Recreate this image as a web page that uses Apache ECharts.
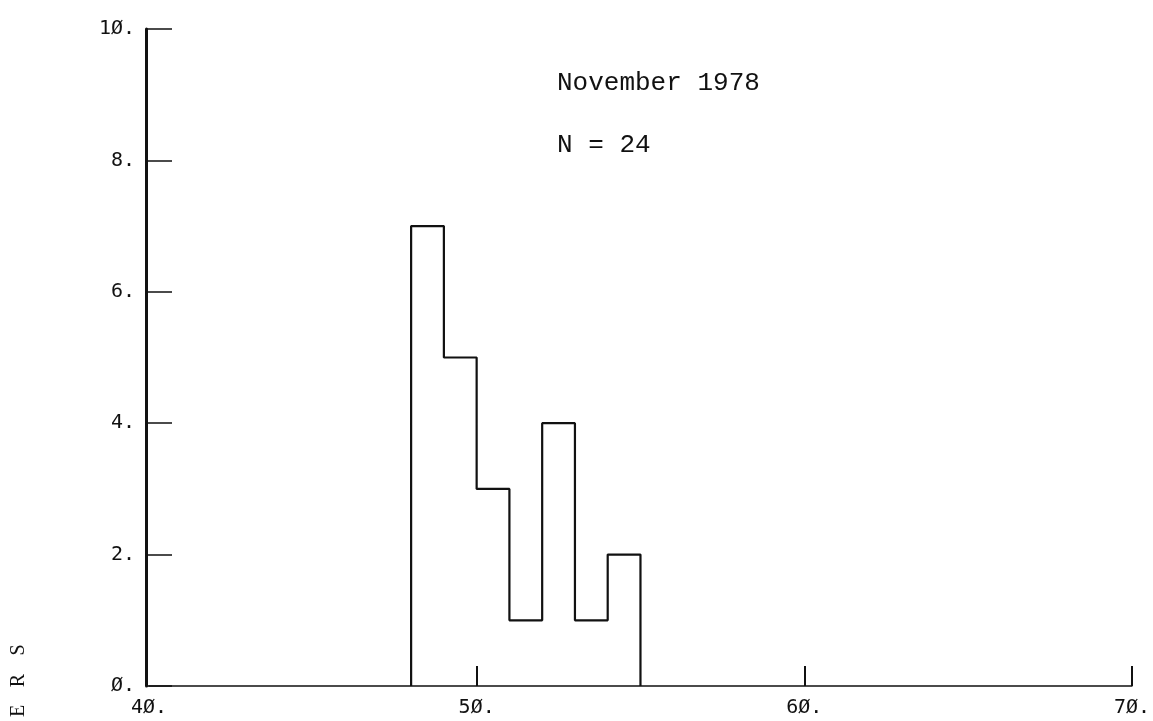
<!DOCTYPE html>
<html>
<head>
<meta charset="utf-8">
<script src="https://cdn.jsdelivr.net/npm/echarts@6/dist/echarts.min.js"></script>
<style>
html, body { margin: 0; padding: 0; background: #fff; }
#chart { width: 1153px; height: 721px; }
</style>
</head>
<body>
<div id="chart"></div>
<script>
// histogram bins (width 1) and counts
var binEdges = [48, 49, 50, 51, 52, 53, 54, 55];
var counts = [7, 5, 3, 1, 4, 1, 2];
var xTicks = [50, 60, 70];
var titleLines = ['November 1978', 'N = 24'];
var sideLetters = ['E', 'R', 'S'];

// build outline points for a step line
var outline = [[binEdges[0], 0]];
for (var i = 0; i < counts.length; i++) {
    outline.push([binEdges[i], counts[i]]);
}
outline.push([binEdges[binEdges.length - 1], 0]);

function slashZero(v) {
    return (String(v) + '.').replace(/0/g, '\u00D8');
}

var chart = echarts.init(document.getElementById('chart'));
var ink = '#111';
var labelFont = {
    color: ink,
    fontFamily: 'DejaVu Sans Mono',
    fontSize: 20
};

chart.setOption({
    animation: false,
    grid: { left: 149, right: 15, top: 29, bottom: 35 },
    xAxis: {
        type: 'value',
        min: 40,
        max: 70,
        interval: 10,
        splitLine: { show: false },
        axisLine: { lineStyle: { color: ink, width: 1.5 } },
        axisTick: { inside: true, length: 20, customValues: xTicks, lineStyle: { color: ink, width: 2 } },
        axisLabel: Object.assign({ margin: 12, formatter: slashZero }, labelFont)
    },
    yAxis: {
        type: 'value',
        min: 0,
        max: 10,
        interval: 2,
        offset: 3,
        splitLine: { show: false },
        axisLine: { show: true, lineStyle: { color: ink, width: 3 } },
        axisTick: { inside: true, length: 26, lineStyle: { color: ink, width: 1.5 } },
        axisLabel: Object.assign({ margin: 11, formatter: slashZero }, labelFont)
    },
    series: [{
        type: 'line',
        step: 'end',
        symbol: 'none',
        lineStyle: { color: ink, width: 2.2 },
        data: outline
    }],
    graphic: [{
        type: 'text',
        left: 557,
        top: 70,
        style: { text: titleLines[0], fill: ink, font: '26px "Liberation Mono", monospace' }
    }, {
        type: 'text',
        left: 557,
        top: 132,
        style: { text: titleLines[1], fill: ink, font: '26px "Liberation Mono", monospace' }
    }].concat(sideLetters.map(function (ch, k) {
        return {
            type: 'text',
            x: 19,
            y: 711 - k * 30.5,
            rotation: Math.PI / 2,
            style: {
                text: ch,
                fill: ink,
                font: '20px "Liberation Serif", serif',
                align: 'center',
                verticalAlign: 'middle'
            }
        };
    }))
});
</script>
</body>
</html>
